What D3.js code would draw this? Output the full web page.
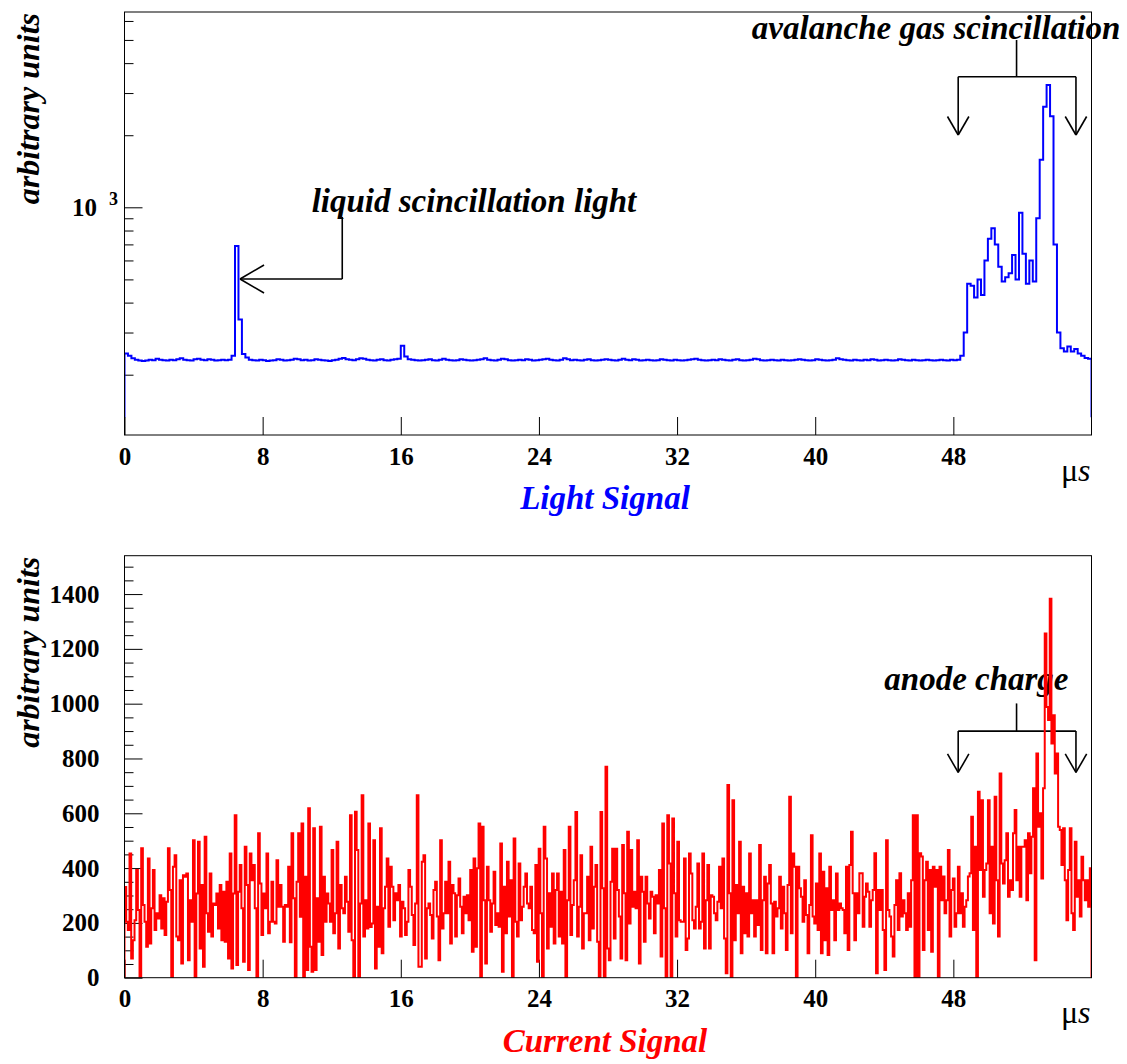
<!DOCTYPE html>
<html>
<head>
<meta charset="utf-8">
<script src="https://cdn.jsdelivr.net/npm/d3@7"></script>
<style>
  html, body { margin: 0; padding: 0; background: #fff; }
  svg { display: block; }
  text { font-family: "Liberation Serif", "Times New Roman", serif; }
</style>
</head>
<body>
<svg id="chart" width="1127" height="1064"></svg>
<script>
// ---------------- DATA ----------------
const xDomain = [0, 56];                 // microseconds
const xTickValues = [0, 8, 16, 24, 32, 40, 48];

// Light signal (top panel), bins of 0.2 us, arbitrary units (log scale)
const lightValues = [
  245,240,234,231,229,228,229,231,230,233,
  231,230,229,231,230,232,234,231,230,229,
  232,233,231,230,232,231,229,230,231,230,
  231,
  240,689,340,244,
  236,231,230,229,231,230,228,229,230,232,
  231,229,230,231,233,232,230,231,229,230,
  232,231,230,229,228,230,231,233,235,232,
  231,230,232,234,233,231,230,229,231,232,
  230,229,231,232,233,
  264,238,
  232,231,230,229,230,231,232,230,229,231,
  233,231,230,229,230,232,231,230,229,230,
  231,232,234,231,230,229,231,233,232,230,
  229,230,231,230,232,231,229,230,231,232,
  233,231,230,229,231,234,232,230,231,230,
  229,231,232,230,229,230,231,232,231,230,
  229,231,233,231,230,232,231,229,230,231,
  230,229,230,232,231,230,229,231,230,229,
  230,231,232,233,231,230,229,230,231,230,
  232,231,230,229,231,232,230,229,230,231,
  233,232,230,229,230,231,230,229,231,230,
  229,230,231,232,231,230,229,230,232,231,
  230,229,230,231,234,232,231,230,229,231,
  230,229,231,230,232,231,229,230,231,230,
  229,230,232,231,230,229,231,230,229,230,
  231,230,229,230,231,230,229,231,230,231,
  240,300,480,470,420,500,430,600,740,817,
  700,565,490,510,530,632,500,950,640,480,
  600,490,900,1580,2630,3240,2400,700,300,258,
  250,262,250,256,245,240,235,233
];
const lightFloor = 133;        // where the outline drops at both ends
const lightDomain = [112, 6540];
const lightMajorTicks = [1000];
const lightMinorTicks = [200,300,400,500,600,700,800,900,2000,3000,4000,5000,6000];

// Current signal (bottom panel), arbitrary units
const currentValues = [
  331,204,174,453,70,137,210,393,247,0,
  472,265,204,113,435,125,253,393,174,235,
  216,301,180,290,156,277,472,320,0,405,
  447,150,137,356,52,374,368,380,64,283,
  204,502,0,307,496,107,338,40,514,235,
  168,380,150,271,265,307,180,338,137,314,
  131,350,70,453,34,307,593,46,314,411,
  253,58,478,338,28,453,356,411,253,0,
  527,344,156,307,253,453,162,204,350,204,
  198,429,259,338,259,131,265,259,405,129,
  527,290,0,350,527,222,563,0,368,28,
  618,113,22,545,28,290,131,551,83,368,
  204,307,271,204,466,162,235,496,107,338,
  253,235,368,277,168,593,137,0,606,466,
  0,271,666,150,
  283,180,563,185,198,502,34,259,113,545,
  89,253,332,435,186,405,332,210,308,283,
  338,150,277,253,156,204,393,332,229,119,
  271,666,40,40,423,447,70,253,271,229,
  143,320,350,223,64,502,180,235,350,235,
  423,125,338,308,150,301,362,259,162,295,
  235,301,210,393,95,435,113,399,563,0,
  551,283,52,405,283,168,271,387,192,235,
  186,490,22,332,162,423,223,356,0,508,
  204,150,417,210,259,332,380,271,253,332,
  174,162,411,58,471,235,0,551,435,107,
  308,186,380,125,320,380,150,314,125,466,
  0,283,551,156,265,356,605,150,259,447,
  107,235,235,368,137,478,180,332,411,131,
  0,605,326,0,770,107,64,
  350,471,143,471,320,223,70,484,308,64,
  533,198,466,259,314,253,502,52,368,314,
  131,368,271,216,314,295,162,301,271,393,
  77,563,253,0,593,417,0,581,308,150,
  496,210,204,204,435,101,143,453,380,210,
  180,259,417,180,204,453,107,283,411,107,
  301,295,235,210,277,405,253,435,143,16,
  703,308,0,648,137,338,235,496,89,332,
  162,308,150,453,235,283,150,283,192,484,
  101,283,368,89,344,411,271,89,277,223,
  253,368,180,332,235,101,338,660,162,453,
  405,0,405,326,295,204,356,229,89,265,
  520,223,198,344,174,453,89,387,137,326,
  83,405,247,283,137,380,247,271,253,247,
  162,405,101,411,
  533,308,137,308,235,381,381,186,295,344,
  314,186,283,320,454,16,320,247,320,174,
  28,502,247,223,150,77,265,356,174,381,
  223,283,235,174,308,186,356,593,0,593,
  0,454,442,101,356,423,174,393,95,405,
  332,393,0,405,283,369,235,283,466,150,
  320,362,186,235,405,235,308,186,259,283,
  369,381,587,174,478,0,679,393,648,295,
  393,417,648,235,478,198,660,356,150,745,
  417,344,429,527,295,356,320,527,612,356,
  478,295,478,478,502,283,527,381,514,691,
  64,818,551,600,362,691,1256,988,940,1383,
  855,958,745,818,551,539,411,545,356,210,
  393,545,235,174,496,295,356,223,441,356,
  283,356,259,399
];
const currentFloor = 0;
const currentDomain = [0, 1540];
const currentMajorTicks = [0, 200, 400, 600, 800, 1000, 1200, 1400];
const currentMinorTicks = [50,100,150,250,300,350,450,500,550,650,700,750,850,900,950,
  1050,1100,1150,1250,1300,1350,1450,1500];

// annotations (data coordinates)
const liquidNote = { text: "liquid scincillation light", textX: 10.84, textY: 956,
  tipX: 6.69, tipY: 502, cornerX: 12.61, topY: 911 };
const avalancheNote = { text: "avalanche gas scincillation", textX: 36.33, textY: 5043,
  centerX: 51.66, topY: 4995, barY: 3508, leftX: 48.28, rightX: 55.10, tipY: 2004 };
const anodeNote = { text: "anode charge", textX: 44.0, textY: 1050,
  centerX: 51.66, topY: 1001, barY: 900, leftX: 48.28, rightX: 55.10, tipY: 749 };

const lightTitle = "Light Signal";
const currentTitle = "Current Signal";
const yTitle = "arbitrary units";

// ---------------- LAYOUT ----------------
const svg = d3.select("#chart");
const L = 124.5, R = 1091.5;
const panels = [
  { top: 12, bottom: 435 },
  { top: 555.7, bottom: 977.7 }
];
const x = d3.scaleLinear().domain(xDomain).range([L, R]);
const yLight = d3.scaleLog().domain(lightDomain).range([panels[0].bottom, panels[0].top]);
const yCur = d3.scaleLinear().domain(currentDomain).range([panels[1].bottom, panels[1].top]);

const FONT = '"Liberation Serif", "Times New Roman", serif';
const TICK_FS = 25;

function stepPoints(values, floor) {
  const w = (xDomain[1] - xDomain[0]) / values.length;
  const pts = [[xDomain[0], floor]];
  values.forEach((v, i) => pts.push([xDomain[0] + i * w, v]));
  pts.push([xDomain[1], values[values.length - 1]]);
  pts.push([xDomain[1], floor]);
  return pts;
}

function drawPanel(idx, yScale, majors, minors, values, floor, color, title, majorFmt) {
  const p = panels[idx];
  const g = svg.append("g");
  const clipId = "clip" + idx;
  svg.append("clipPath").attr("id", clipId).append("rect")
    .attr("x", L).attr("y", p.top).attr("width", R - L).attr("height", p.bottom - p.top);

  // x axis
  const xa = d3.axisBottom(x).tickValues(xTickValues).tickSizeInner(-18).tickSizeOuter(0)
    .tickPadding(12).tickFormat(d3.format("d"));
  const gx = g.append("g").attr("transform", `translate(0,${p.bottom})`).call(xa);
  gx.select(".domain").remove();
  gx.selectAll("text").attr("font-size", TICK_FS).attr("font-weight", "bold")
    .attr("font-family", FONT).attr("fill", "#000");
  gx.selectAll("line").attr("stroke", "#000");

  // y axis minor
  const ymin = d3.axisLeft(yScale).tickValues(minors).tickSizeInner(-9).tickSizeOuter(0).tickFormat("");
  const gym = g.append("g").attr("transform", `translate(${L},0)`).call(ymin);
  gym.select(".domain").remove();
  gym.selectAll("line").attr("stroke", "#000");

  // y axis major
  const ya = d3.axisLeft(yScale).tickValues(majors).tickSizeInner(-18).tickSizeOuter(0)
    .tickPadding(25).tickFormat(majorFmt);
  const gy = g.append("g").attr("transform", `translate(${L},0)`).call(ya);
  gy.select(".domain").remove();
  gy.selectAll("text").attr("font-size", TICK_FS).attr("font-weight", "bold")
    .attr("font-family", FONT).attr("fill", "#000");
  gy.selectAll("line").attr("stroke", "#000");

  // histogram
  const line = d3.line().x(d => x(d[0])).y(d => yScale(d[1])).curve(d3.curveStepAfter);
  g.append("path").datum(stepPoints(values, floor))
    .attr("clip-path", `url(#${clipId})`)
    .attr("fill", "none").attr("stroke", color).attr("stroke-width", 2)
    .attr("stroke-linejoin", "miter").attr("d", line);

  // frame
  g.append("rect").attr("x", L).attr("y", p.top).attr("width", R - L).attr("height", p.bottom - p.top)
    .attr("fill", "none").attr("stroke", "#000").attr("stroke-width", 1);

  // unit label
  const mu = g.append("text").attr("x", R - 1).attr("y", p.bottom + 45.5)
    .attr("text-anchor", "end").attr("font-size", 32).attr("font-family", FONT).attr("fill", "#000");
  mu.append("tspan").text("\u03bc");
  mu.append("tspan").attr("font-style", "italic").text("s");

  // panel title
  g.append("text").attr("x", (L + R) / 2 - 3).attr("y", p.bottom + 74)
    .attr("text-anchor", "middle").attr("font-size", 33).attr("font-weight", "bold")
    .attr("font-style", "italic").attr("font-family", FONT).attr("fill", color).text(title);

  // y title
  g.append("text").attr("transform", `translate(38.5,${p.top + 1}) rotate(-90)`)
    .attr("text-anchor", "end").attr("font-size", 32).attr("font-weight", "bold")
    .attr("font-style", "italic").attr("font-family", FONT).attr("fill", "#000").text(yTitle);
  return gy;
}

function noteText(t, px, py) {
  svg.append("text").attr("x", px).attr("y", py).attr("font-size", 33)
    .attr("font-weight", "bold").attr("font-style", "italic").attr("font-family", FONT)
    .attr("fill", "#000").text(t);
}
function seg(x1, y1, x2, y2) {
  svg.append("line").attr("x1", x1).attr("y1", y1).attr("x2", x2).attr("y2", y2)
    .attr("stroke", "#000").attr("stroke-width", 1.6);
}
function bracket(n, yScale) {
  noteText(n.text, x(n.textX), yScale(n.textY));
  const cx = x(n.centerX), ty = yScale(n.topY), by = yScale(n.barY);
  const lx = x(n.leftX), rx = x(n.rightX), tip = yScale(n.tipY);
  seg(cx, ty, cx, by);
  seg(lx, by, rx, by);
  [lx, rx].forEach(ax => {
    seg(ax, by, ax, tip);
    seg(ax - 10.7, tip - 18.5, ax, tip);
    seg(ax + 10.7, tip - 18.5, ax, tip);
  });
}

// annotations on bottom drawn before the histogram (histogram overlaps them)
bracket(anodeNote, yCur);

drawPanel(0, yLight, lightMajorTicks, lightMinorTicks, lightValues, lightFloor,
  "#0000ff", lightTitle, () => "");
// "10^3" label
svg.append("text").attr("x", 97).attr("y", yLight(1000) + 8.5).attr("text-anchor", "end")
  .attr("font-family", FONT).attr("font-weight", "bold").attr("font-size", TICK_FS)
  .attr("fill", "#000").text("10");
svg.append("text").attr("x", 109).attr("y", yLight(1000) - 2).attr("font-family", FONT)
  .attr("font-weight", "bold").attr("font-size", 18).attr("fill", "#000").text("3");

drawPanel(1, yCur, currentMajorTicks, currentMinorTicks, currentValues, currentFloor,
  "#ff0000", currentTitle, d3.format("d"));

// top panel annotations
noteText(liquidNote.text, x(liquidNote.textX), yLight(liquidNote.textY));
{
  const tx = x(liquidNote.tipX), ty = yLight(liquidNote.tipY);
  const cx = x(liquidNote.cornerX), topY = yLight(liquidNote.topY);
  seg(cx, topY, cx, ty);
  seg(cx, ty, tx, ty);
  seg(tx + 24, ty - 14, tx, ty);
  seg(tx + 24, ty + 14, tx, ty);
}
bracket(avalancheNote, yLight);
</script>
</body>
</html>
